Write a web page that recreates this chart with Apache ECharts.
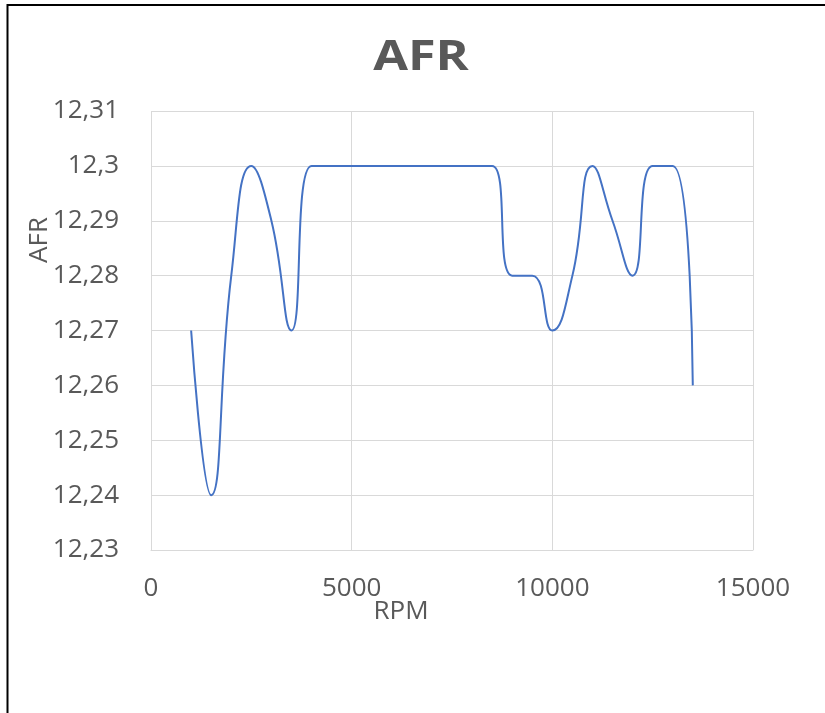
<!DOCTYPE html>
<html>
<head>
<meta charset="utf-8">
<script src="https://cdn.jsdelivr.net/npm/echarts@6/dist/echarts.min.js"></script>
<style>
html,body{margin:0;padding:0;background:#fff;}
#chart{width:825px;height:713px;}
</style>
</head>
<body>
<div id="chart"></div>
<script>
const rpm = [1000,1500,2000,2500,3000,3500,4000,4500,5000,5500,6000,6500,7000,7500,8000,8500,9000,9500,10000,10500,11000,11500,12000,12500,13000,13500];
const afr = [12.27,12.24,12.28,12.30,12.29,12.27,12.30,12.30,12.30,12.30,12.30,12.30,12.30,12.30,12.30,12.30,12.28,12.28,12.27,12.28,12.30,12.29,12.28,12.30,12.30,12.26];
const xTicks = {min:0, max:15000, interval:5000};
const yTicks = {min:12.23, max:12.31, interval:0.01};
const titleText = 'AFR';
const xName = 'RPM';
const yName = 'AFR';

const FONT = "'Open Sans', 'Liberation Sans', sans-serif";
const GREY = '#595959';
const chart = echarts.init(document.getElementById('chart'), null, {renderer:'canvas'});
chart.setOption({
  animation:false,
  backgroundColor:'#fff',
  grid:{left:151, top:111, right:72, bottom:163, containLabel:false},
  xAxis:{
    type:'value', min:xTicks.min, max:xTicks.max, interval:xTicks.interval,
    axisLine:{show:true, lineStyle:{color:'#d9d9d9', width:1}},
    axisTick:{show:false},
    splitLine:{show:true, lineStyle:{color:'#d9d9d9', width:1}},
    axisLabel:{color:GREY, fontFamily:FONT, fontSize:26, margin:26,
      formatter:function(v){return String(Math.round(v));}}
  },
  yAxis:{
    type:'value', min:yTicks.min, max:yTicks.max, interval:yTicks.interval,
    axisLine:{show:false},
    axisTick:{show:false},
    splitLine:{show:true, lineStyle:{color:'#d9d9d9', width:1}},
    axisLabel:{color:GREY, fontFamily:FONT, fontSize:26, margin:32,
      formatter:function(v){return String(parseFloat(v.toFixed(2))).replace('.', ',');}}
  },
  series:[{
    type:'line',
    data:rpm.map((r,i)=>[r, afr[i]]),
    smooth:0.5,
    showSymbol:false,
    lineStyle:{color:'#4472C4', width:2},
    itemStyle:{color:'#4472C4'}
  }],
  graphic:[
    {type:'rect', shape:{x:7.5, y:5, width:900, height:800}, style:{fill:'none', stroke:'#000', lineWidth:2}, silent:true},
    {type:'text', x:421, y:58, scaleX:1.2, style:{text:titleText, font:"bold 42px " + FONT, fill:GREY, textAlign:'center', textVerticalAlign:'middle'}},
    {type:'text', x:401, y:612, style:{text:xName, font:"26px " + FONT, fill:GREY, textAlign:'center', textVerticalAlign:'middle'}},
    {type:'text', x:40, y:240, rotation:Math.PI/2, style:{text:yName, font:"26px " + FONT, fill:GREY, textAlign:'center', textVerticalAlign:'middle'}}
  ]
});
</script>
</body>
</html>
